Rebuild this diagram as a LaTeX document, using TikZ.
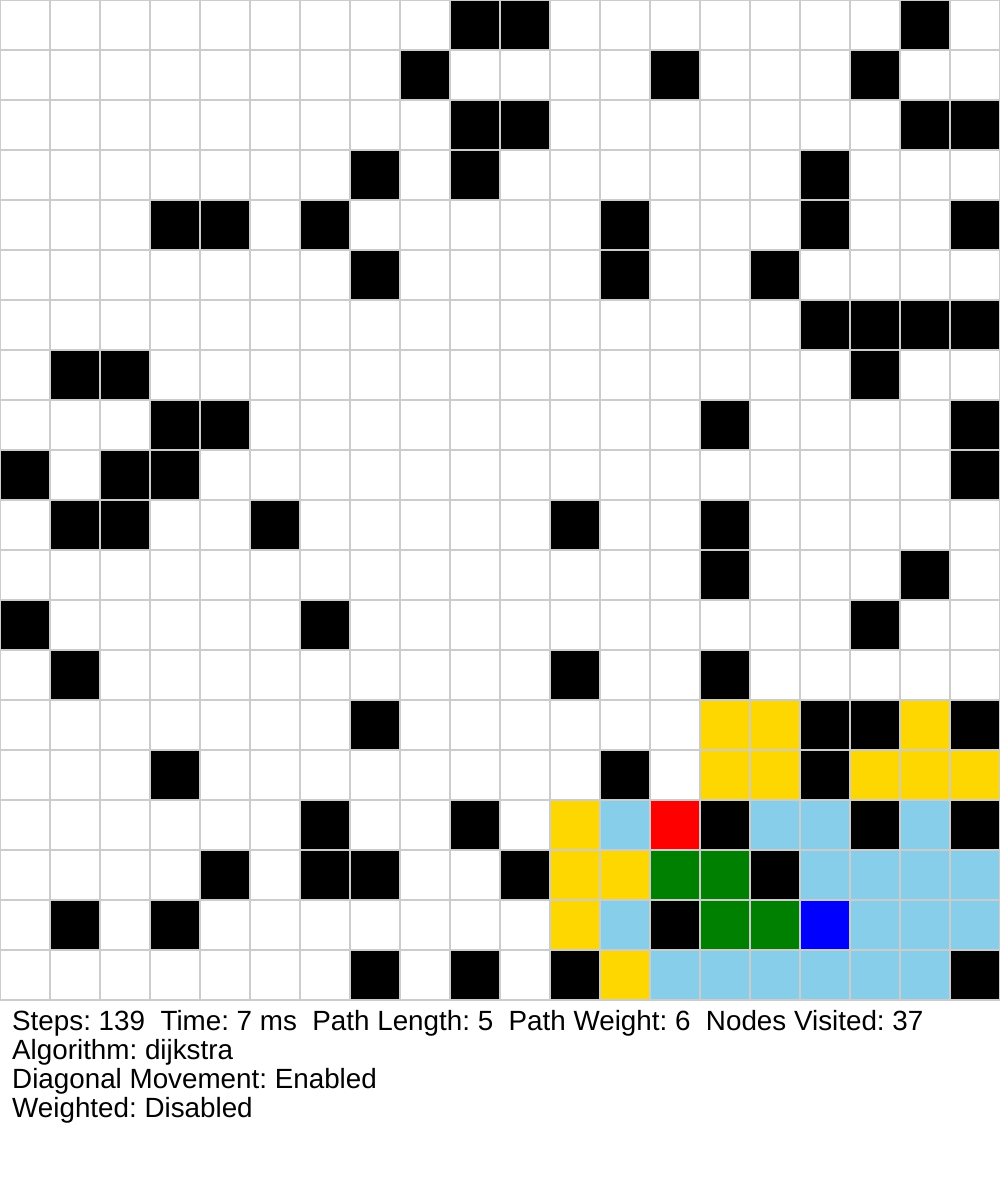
\documentclass[tikz,border=0pt]{standalone}
\usepackage{fontspec}
\setmainfont{Liberation Sans}
\frenchspacing
\definecolor{gridline}{HTML}{CCCCCC}
\definecolor{visitedc}{HTML}{87CEEB}
\definecolor{frontierc}{HTML}{FFD700}
\definecolor{pathc}{HTML}{008000}
\definecolor{startc}{HTML}{FF0000}
\definecolor{endc}{HTML}{0000FF}
\begin{document}
\begin{tikzpicture}[x=1pt,y=-1pt,
  cell/.style={draw=gridline,line width=1.2pt},
  info/.style={anchor=base west,inner sep=0pt,font=\fontsize{27.8}{32}\selectfont}]
\useasboundingbox (0,0) rectangle (1000,1200);
\fill[white] (0,0) rectangle (1000,1200);
% empty grid
\foreach \r in {0,...,19}
  \foreach \c in {0,...,19}
    \draw[cell,fill=white] (\c*50,\r*50) rectangle ++(50,50);
% walls
\foreach \r/\cs in {0/{9,10,18},1/{8,13,17},2/{9,10,18,19},3/{7,9,16},
  4/{3,4,6,12,16,19},5/{7,12,15},6/{16,17,18,19},7/{1,2,17},8/{3,4,14,19},
  9/{0,2,3,19},10/{1,2,5,11,14},11/{14,18},12/{0,6,17},13/{1,11,14},
  14/{7,16,17,19},15/{3,12,16},16/{6,9,14,17,19},17/{4,6,7,10,15},
  18/{1,3,13},19/{7,9,11,19}}
  \foreach \c in \cs
    \draw[cell,fill=black] (\c*50,\r*50) rectangle ++(50,50);
% frontier (yellow)
\foreach \r/\cs in {14/{14,15,18},15/{14,15,17,18,19},16/{11},17/{11,12},18/{11},19/{12}}
  \foreach \c in \cs
    \draw[cell,fill=frontierc] (\c*50,\r*50) rectangle ++(50,50);
% visited (light blue)
\foreach \r/\cs in {16/{12,15,16,18},17/{16,17,18,19},18/{12,17,18,19},19/{13,14,15,16,17,18}}
  \foreach \c in \cs
    \draw[cell,fill=visitedc] (\c*50,\r*50) rectangle ++(50,50);
% path (green)
\foreach \c/\r in {13/17,14/17,14/18,15/18}
  \draw[cell,fill=pathc] (\c*50,\r*50) rectangle ++(50,50);
% start and end
\draw[cell,fill=startc] (13*50,16*50) rectangle ++(50,50);
\draw[cell,fill=endc] (16*50,18*50) rectangle ++(50,50);
% info text
\node[info] (stats) at (12,1030) {Steps: 139\ \ Time: 7 ms\ \ Path Length: 5\ \ Path Weight: 6\ \ Nodes Visited: 37};
\node[info] (algo) at (12,1059) {Algorithm: dijkstra};
\node[info] (diag) at (12,1088) {Diagonal Movement: Enabled};
\node[info] (weight) at (12,1117) {Weighted: Disabled};
\end{tikzpicture}
\end{document}
